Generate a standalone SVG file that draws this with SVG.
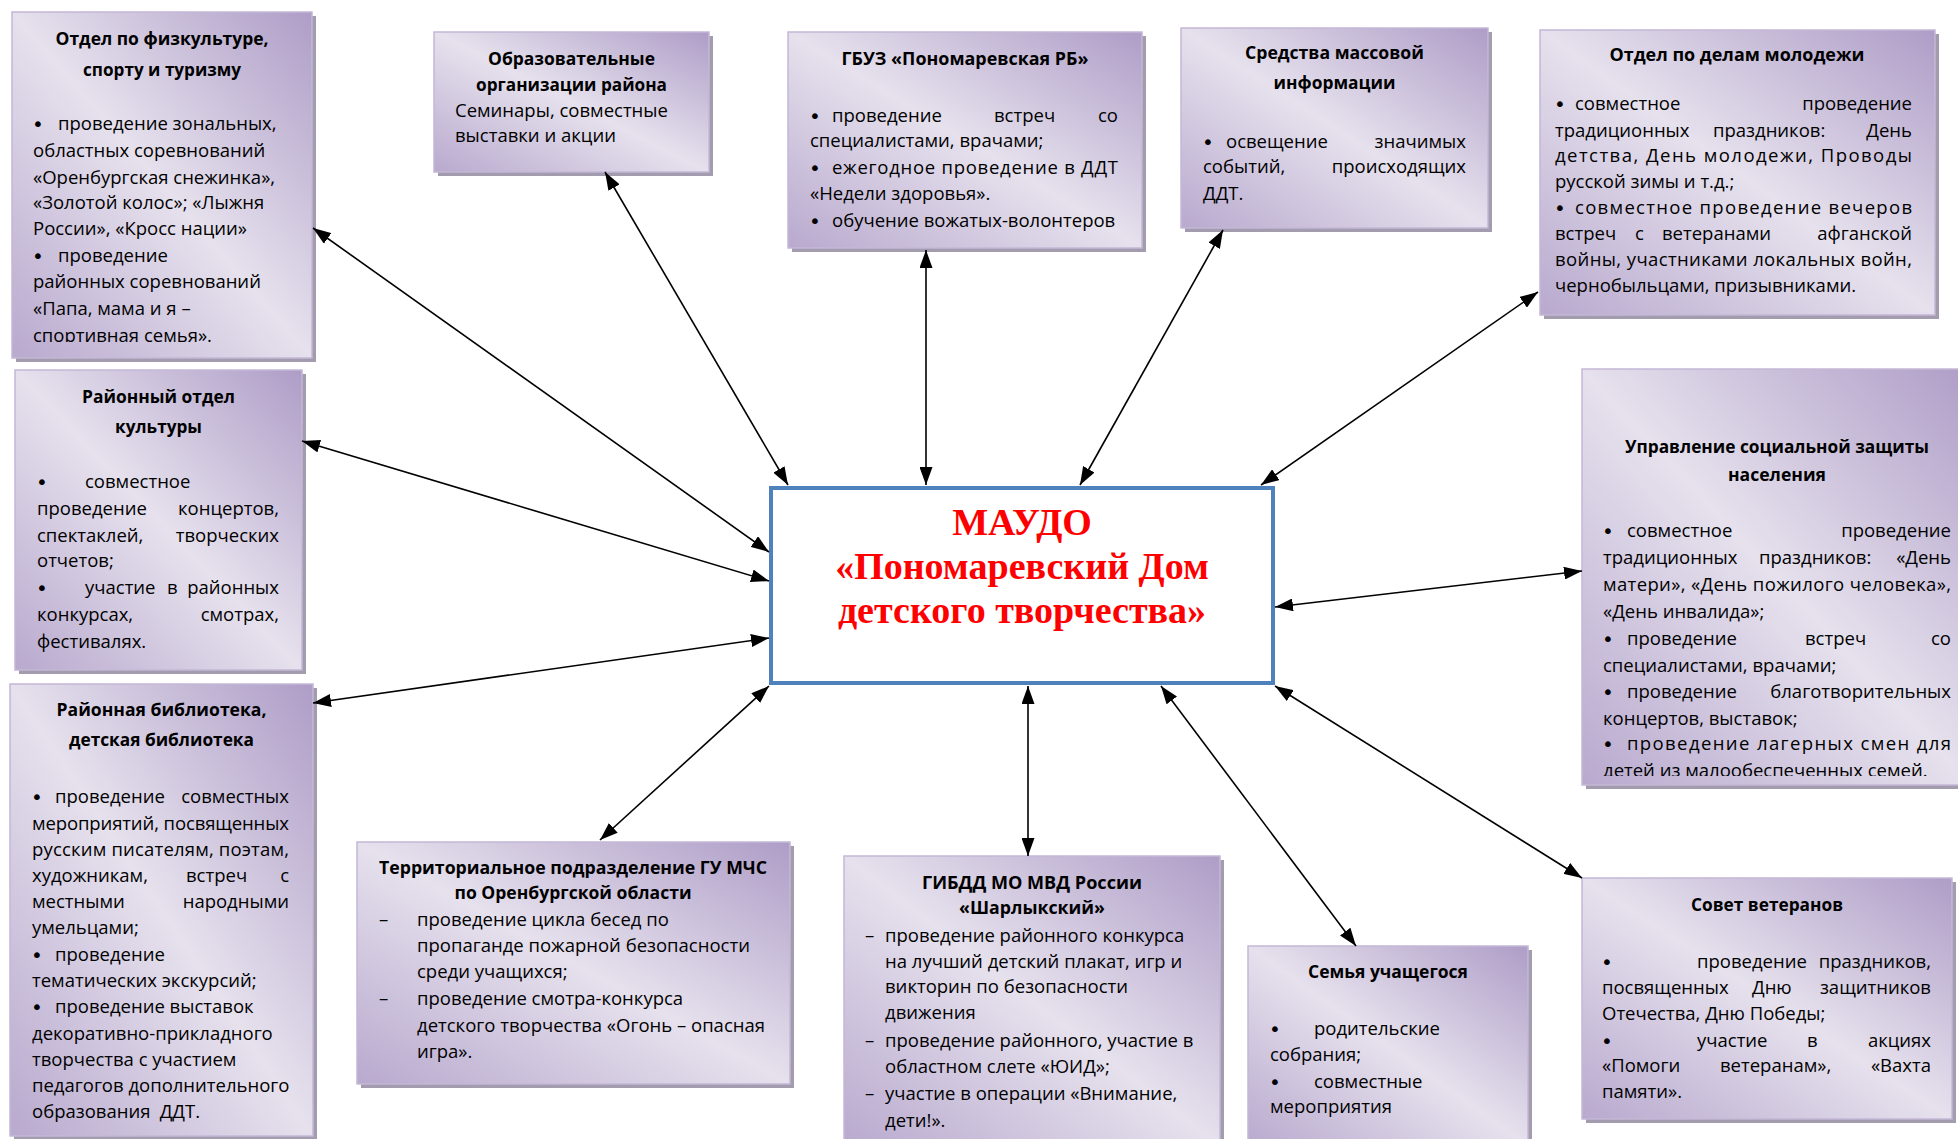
<svg xmlns="http://www.w3.org/2000/svg" width="1958" height="1139" viewBox="0 0 1958 1139">
<defs>
<linearGradient id="g" x1="1" y1="0" x2="0" y2="1">
<stop offset="0" stop-color="#AE9DC7"/>
<stop offset="0.5" stop-color="#E6E1ED"/>
<stop offset="1" stop-color="#B8A9CE"/>
</linearGradient>
<marker id="ah" viewBox="0 0 18 13" refX="18" refY="6.5" markerWidth="18" markerHeight="13" markerUnits="userSpaceOnUse" orient="auto-start-reverse"><path d="M0,0 L18,6.5 L0,13 z" fill="#000"/></marker>
<clipPath id="c1"><rect x="12" y="12" width="300" height="330"/></clipPath>
<clipPath id="c11"><rect x="1582" y="369" width="376" height="407"/></clipPath>
</defs>
<style>
.sh{fill:#A39BAE}
.bx{fill:url(#g);stroke:#C4B8D6;stroke-width:1.5}
text{font-family:"Open Sans","Noto Sans","DejaVu Sans",sans-serif;font-size:18.5px;fill:#000}
.t{font-weight:bold;text-anchor:middle}
.r{text-anchor:end}
.u{font-family:"DejaVu Sans",sans-serif;font-size:20px}
.cn line{stroke:#000;stroke-width:1.6;marker-start:url(#ah);marker-end:url(#ah)}
.ctr{font-family:"Liberation Serif","Times New Roman",serif;font-weight:bold;font-size:38px;fill:#FF0000;text-anchor:middle}
</style>
<rect x="0" y="0" width="1958" height="1139" fill="#fff"/>

<g id="n-sport">
<rect class="sh" x="16" y="16" width="300" height="346"/>
<rect class="bx" x="12" y="12" width="300" height="346"/>
<text class="t" x="162" y="45" textLength="213" lengthAdjust="spacingAndGlyphs">Отдел по физкультуре,</text>
<text class="t" x="162" y="76" textLength="158" lengthAdjust="spacingAndGlyphs">спорту и туризму</text>
<g clip-path="url(#c1)">
<text class="u" x="32" y="131">•</text><text x="58" y="130">проведение зональных,</text>
<text x="33" y="157">областных соревнований</text>
<text x="33" y="184">«Оренбургская снежинка»,</text>
<text x="33" y="209">«Золотой колос»; «Лыжня</text>
<text x="33" y="235">России», «Кросс нации»</text>
<text class="u" x="32" y="263">•</text><text x="58" y="262">проведение</text>
<text x="33" y="288">районных соревнований</text>
<text x="33" y="315">«Папа, мама и я –</text>
<text x="33" y="342">спортивная семья».</text>
</g>
</g>

<g id="n-edu">
<rect class="sh" x="438" y="36" width="275" height="140"/>
<rect class="bx" x="434" y="32" width="275" height="140"/>
<text class="t" x="571.5" y="65" textLength="167" lengthAdjust="spacingAndGlyphs">Образовательные</text>
<text class="t" x="571.5" y="91" textLength="191" lengthAdjust="spacingAndGlyphs">организации района</text>
<text x="455" y="117">Семинары, совместные</text>
<text x="455" y="142">выставки и акции</text>
</g>

<g id="n-gbuz">
<rect class="sh" x="792" y="36" width="354" height="216"/>
<rect class="bx" x="788" y="32" width="354" height="216"/>
<text class="t" x="965" y="65" textLength="247" lengthAdjust="spacingAndGlyphs">ГБУЗ «Пономаревская РБ»</text>
<text class="u" x="809" y="123">•</text><text x="832" y="122">проведение</text><text x="994" y="122">встреч</text><text class="r" x="1118" y="122">со</text>
<text x="810" y="147">специалистами, врачами;</text>
<text class="u" x="809" y="175">•</text><text x="832" y="174" textLength="286" lengthAdjust="spacing">ежегодное проведение в ДДТ</text>
<text x="810" y="200">«Недели здоровья».</text>
<text class="u" x="809" y="228">•</text><text x="832" y="227">обучение вожатых-волонтеров</text>
</g>

<g id="n-smi">
<rect class="sh" x="1185" y="32" width="307" height="200"/>
<rect class="bx" x="1181" y="28" width="307" height="200"/>
<text class="t" x="1334.5" y="59" textLength="179" lengthAdjust="spacingAndGlyphs">Средства массовой</text>
<text class="t" x="1334.5" y="89" textLength="122" lengthAdjust="spacingAndGlyphs">информации</text>
<text class="u" x="1202" y="149">•</text><text x="1226" y="148">освещение</text><text class="r" x="1466" y="148">значимых</text>
<text x="1203" y="173">событий,</text><text class="r" x="1466" y="173">происходящих</text>
<text x="1203" y="200">ДДТ.</text>
</g>

<g id="n-youth">
<rect class="sh" x="1544" y="34" width="395" height="285"/>
<rect class="bx" x="1540" y="30" width="395" height="285"/>
<text class="t" x="1737" y="61" textLength="255" lengthAdjust="spacingAndGlyphs">Отдел по делам молодежи</text>
<text class="u" x="1554" y="111">•</text><text x="1575" y="110">совместное</text><text class="r" x="1912" y="110">проведение</text>
<text x="1555" y="137">традиционных</text><text x="1713" y="137">праздников:</text><text class="r" x="1912" y="137">День</text>
<text x="1555" y="162" textLength="357" lengthAdjust="spacing">детства, День молодежи, Проводы</text>
<text x="1555" y="188">русской зимы и т.д.;</text>
<text class="u" x="1554" y="215">•</text><text x="1575" y="214" textLength="337" lengthAdjust="spacing">совместное проведение вечеров</text>
<text x="1555" y="240">встреч</text><text x="1635" y="240">с</text><text x="1662" y="240">ветеранами</text><text class="r" x="1912" y="240">афганской</text>
<text x="1555" y="266" textLength="357" lengthAdjust="spacing">войны, участниками локальных войн,</text>
<text x="1555" y="292">чернобыльцами, призывниками.</text>
</g>

<g id="n-culture">
<rect class="sh" x="19" y="374" width="287" height="300"/>
<rect class="bx" x="15" y="370" width="287" height="300"/>
<text class="t" x="158.5" y="403" textLength="153" lengthAdjust="spacingAndGlyphs">Районный отдел</text>
<text class="t" x="158.5" y="433" textLength="87" lengthAdjust="spacingAndGlyphs">культуры</text>
<text class="u" x="36" y="489">•</text><text x="85" y="488">совместное</text>
<text x="37" y="515">проведение</text><text class="r" x="279" y="515">концертов,</text>
<text x="37" y="542">спектаклей,</text><text class="r" x="279" y="542">творческих</text>
<text x="37" y="567">отчетов;</text>
<text class="u" x="36" y="595">•</text><text x="85" y="594">участие</text><text x="167" y="594">в</text><text class="r" x="279" y="594">районных</text>
<text x="37" y="621">конкурсах,</text><text class="r" x="279" y="621">смотрах,</text>
<text x="37" y="648">фестивалях.</text>
</g>

<g id="n-library">
<rect class="sh" x="14" y="688" width="303" height="452"/>
<rect class="bx" x="10" y="684" width="303" height="452"/>
<text class="t" x="161.5" y="716" textLength="210" lengthAdjust="spacingAndGlyphs">Районная библиотека,</text>
<text class="t" x="161.5" y="746" textLength="185" lengthAdjust="spacingAndGlyphs">детская библиотека</text>
<text class="u" x="31" y="804">•</text><text x="55" y="803">проведение</text><text class="r" x="289" y="803">совместных</text>
<text x="32" y="830" textLength="257" lengthAdjust="spacing">мероприятий, посвященных</text>
<text x="32" y="856" textLength="257" lengthAdjust="spacing">русским писателям, поэтам,</text>
<text x="32" y="882">художникам,</text><text x="186" y="882">встреч</text><text class="r" x="289" y="882">с</text>
<text x="32" y="908">местными</text><text class="r" x="289" y="908">народными</text>
<text x="32" y="934">умельцами;</text>
<text class="u" x="31" y="962">•</text><text x="55" y="961">проведение</text>
<text x="32" y="987">тематических экскурсий;</text>
<text class="u" x="31" y="1014">•</text><text x="55" y="1013">проведение выставок</text>
<text x="32" y="1040">декоративно-прикладного</text>
<text x="32" y="1066">творчества с участием</text>
<text x="32" y="1092">педагогов дополнительного</text>
<text x="32" y="1118">образования</text><text class="r" x="200" y="1118">ДДТ.</text>
</g>

<g id="n-mchs">
<rect class="sh" x="361" y="846" width="433" height="242"/>
<rect class="bx" x="357" y="842" width="433" height="242"/>
<text class="t" x="573" y="874" textLength="388" lengthAdjust="spacingAndGlyphs">Территориальное подразделение ГУ МЧС</text>
<text class="t" x="573" y="899" textLength="237" lengthAdjust="spacingAndGlyphs">по Оренбургской области</text>
<text x="379" y="926">–</text><text x="417" y="926">проведение цикла бесед по</text>
<text x="417" y="952">пропаганде пожарной безопасности</text>
<text x="417" y="978">среди учащихся;</text>
<text x="379" y="1005">–</text><text x="417" y="1005">проведение смотра-конкурса</text>
<text x="417" y="1032">детского творчества «Огонь – опасная</text>
<text x="417" y="1058">игра».</text>
</g>

<g id="n-gibdd">
<rect class="sh" x="848" y="860" width="376" height="290"/>
<rect class="bx" x="844" y="856" width="376" height="290"/>
<text class="t" x="1032" y="889" textLength="220" lengthAdjust="spacingAndGlyphs">ГИБДД МО МВД России</text>
<text class="t" x="1032" y="914" textLength="146" lengthAdjust="spacingAndGlyphs">«Шарлыкский»</text>
<text x="865" y="942">–</text><text x="885" y="942">проведение районного конкурса</text>
<text x="885" y="968">на лучший детский плакат, игр и</text>
<text x="885" y="993">викторин по безопасности</text>
<text x="885" y="1019">движения</text>
<text x="865" y="1047">–</text><text x="885" y="1047">проведение районного, участие в</text>
<text x="885" y="1073">областном слете «ЮИД»;</text>
<text x="865" y="1100">–</text><text x="885" y="1100">участие в операции «Внимание,</text>
<text x="885" y="1127">дети!».</text>
</g>

<g id="n-family">
<rect class="sh" x="1252" y="950" width="280" height="200"/>
<rect class="bx" x="1248" y="946" width="280" height="200"/>
<text class="t" x="1388" y="978" textLength="160" lengthAdjust="spacingAndGlyphs">Семья учащегося</text>
<text class="u" x="1269" y="1036">•</text><text x="1314" y="1035">родительские</text>
<text x="1270" y="1061">собрания;</text>
<text class="u" x="1269" y="1089">•</text><text x="1314" y="1088">совместные</text>
<text x="1270" y="1113">мероприятия</text>
</g>

<g id="n-social">
<rect class="sh" x="1586" y="373" width="390" height="416"/>
<rect class="bx" x="1582" y="369" width="390" height="416"/>
<text class="t" x="1777" y="453" textLength="304" lengthAdjust="spacingAndGlyphs">Управление социальной защиты</text>
<text class="t" x="1777" y="481" textLength="98" lengthAdjust="spacingAndGlyphs">населения</text>
<text class="u" x="1602" y="538">•</text><text x="1627" y="537">совместное</text><text class="r" x="1951" y="537">проведение</text>
<text x="1603" y="564">традиционных</text><text x="1759" y="564">праздников:</text><text class="r" x="1951" y="564">«День</text>
<text x="1603" y="591" textLength="348" lengthAdjust="spacing">матери», «День пожилого человека»,</text>
<text x="1603" y="618">«День инвалида»;</text>
<text class="u" x="1602" y="646">•</text><text x="1627" y="645">проведение</text><text x="1805" y="645">встреч</text><text class="r" x="1951" y="645">со</text>
<text x="1603" y="672">специалистами, врачами;</text>
<text class="u" x="1602" y="699">•</text><text x="1627" y="698">проведение</text><text class="r" x="1951" y="698">благотворительных</text>
<text x="1603" y="725">концертов, выставок;</text>
<text class="u" x="1602" y="751">•</text><text x="1627" y="750" textLength="324" lengthAdjust="spacing">проведение лагерных смен для</text>
<g clip-path="url(#c11)"><text x="1603" y="777">детей из малообеспеченных семей.</text></g>
</g>

<g id="n-veterans">
<rect class="sh" x="1586" y="882" width="370" height="241"/>
<rect class="bx" x="1582" y="878" width="370" height="241"/>
<text class="t" x="1767" y="911" textLength="152" lengthAdjust="spacingAndGlyphs">Совет ветеранов</text>
<text class="u" x="1601" y="969">•</text><text x="1697" y="968">проведение</text><text class="r" x="1931" y="968">праздников,</text>
<text x="1602" y="994">посвященных</text><text x="1752" y="994">Дню</text><text class="r" x="1931" y="994">защитников</text>
<text x="1602" y="1020">Отечества, Дню Победы;</text>
<text class="u" x="1601" y="1048">•</text><text x="1697" y="1047">участие</text><text x="1807" y="1047">в</text><text class="r" x="1931" y="1047">акциях</text>
<text x="1602" y="1072">«Помоги</text><text x="1720" y="1072">ветеранам»,</text><text class="r" x="1931" y="1072">«Вахта</text>
<text x="1602" y="1098">памяти».</text>
</g>

<g id="n-center">
<rect x="771" y="488" width="502" height="195" fill="#fff" stroke="#4F81BD" stroke-width="4"/>
<text class="ctr" x="1022" y="535">МАУДО</text>
<text class="ctr" x="1022" y="579">«Пономаревский Дом</text>
<text class="ctr" x="1022" y="623">детского творчества»</text>
</g>

<g id="connectors" class="cn">
<line x1="313" y1="228" x2="769" y2="552"/>
<line x1="605" y1="172" x2="788" y2="485"/>
<line x1="926" y1="250" x2="926" y2="485"/>
<line x1="1223" y1="230" x2="1080" y2="485"/>
<line x1="1538" y1="292" x2="1261" y2="485"/>
<line x1="302" y1="441" x2="769" y2="581"/>
<line x1="313" y1="703" x2="769" y2="638"/>
<line x1="1582" y1="571" x2="1275" y2="607"/>
<line x1="600" y1="840" x2="769" y2="686"/>
<line x1="1028" y1="856" x2="1028" y2="686"/>
<line x1="1356" y1="946" x2="1161" y2="686"/>
<line x1="1582" y1="878" x2="1275" y2="686"/>
</g>
</svg>
